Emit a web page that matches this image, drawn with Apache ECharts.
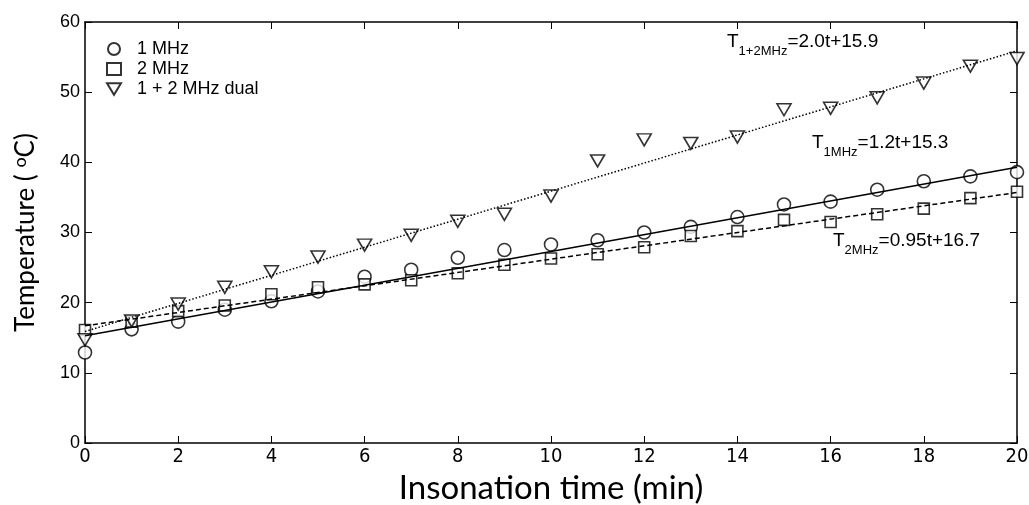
<!DOCTYPE html>
<html><head><meta charset="utf-8">
<script src="https://cdn.jsdelivr.net/npm/echarts@6/dist/echarts.min.js"></script>
<style>html,body{margin:0;padding:0;background:#fff}#c{width:1029px;height:505px}</style>
</head><body><div id="c"></div>
<script>
const times = [0,1,2,3,4,5,6,7,8,9,10,11,12,13,14,15,16,17,18,19,20];
const temp1MHz = [12.9,16.2,17.3,19.0,20.2,21.6,23.7,24.7,26.4,27.5,28.3,28.9,30.0,30.8,32.2,34.0,34.4,36.1,37.3,38.0,38.6];
const temp2MHz = [16.1,17.3,18.8,19.6,21.2,22.2,22.6,23.2,24.2,25.4,26.3,26.9,27.9,29.5,30.2,31.8,31.5,32.6,33.4,34.9,35.8];
const tempDual = [14.7,17.4,19.8,22.2,24.4,26.5,28.2,29.6,31.6,32.6,35.2,40.2,43.2,42.7,43.6,47.5,47.7,49.2,51.3,53.7,54.8];
const fit1MHz = [[0,15.3],[20,39.3]];
const fit2MHz = [[0,16.7],[20,35.7]];
const fitDual = [[0,15.9],[20,55.9]];
const seriesNames = ['1 MHz','2 MHz','1 + 2 MHz dual'];
const xTicks = {min:0,max:20,interval:2};
const yTicks = {min:0,max:60,interval:10};

const pair = arr => times.map((t,i)=>[t,arr[i]]);
const tri = 'path://M0,0 L12,0 L6,10 Z';
const mk = {color:'#fff',borderColor:'#000',borderWidth:1.6};
const chart = echarts.init(document.getElementById('c'));
const narrow = '"Liberation Sans Narrow","DejaVu Sans Condensed",Arial,sans-serif';
const tick = {show:true,inside:true,length:7,lineStyle:{color:'#000',width:1}};
const line = {onZero:false,lineStyle:{color:'#000',width:1.5}};
const rich = {m:{fontFamily:'Arial',fontSize:19,fill:'#000',verticalAlign:'top'},
              s:{fontFamily:'Arial',fontSize:13,fill:'#000',verticalAlign:'top',padding:[13,0,0,0]}};
chart.setOption({
  animation:false,
  backgroundColor:'#fff',
  grid:{left:85,right:12,top:22,bottom:62,containLabel:false,outerBoundsMode:'none'},
  legend:{
    orient:'vertical',left:101,top:34,itemGap:0,itemWidth:14,itemHeight:12,
    data:seriesNames,
    textStyle:{fontFamily:'Arial',fontSize:18,color:'#000',padding:[0,0,0,11],lineHeight:20}
  },
  xAxis:[
    {type:'value',min:xTicks.min,max:xTicks.max,interval:xTicks.interval,
     name:'Insonation time (min)',nameLocation:'middle',nameGap:26,
     nameTextStyle:{fontFamily:'Lato, "Open Sans", sans-serif',fontSize:33,color:'#000'},
     axisLine:line,axisTick:tick,
     axisLabel:{fontFamily:narrow,fontSize:20,color:'#000',margin:4},
     splitLine:{show:false}},
    {type:'value',position:'top',min:xTicks.min,max:xTicks.max,interval:xTicks.interval,
     axisLine:line,axisTick:tick,
     axisLabel:{show:false},splitLine:{show:false}}
  ],
  yAxis:[
    {type:'value',min:yTicks.min,max:yTicks.max,interval:yTicks.interval,
     name:'Temperature ( {sup|o}C)',nameLocation:'middle',nameGap:44,
     nameTextStyle:{fontFamily:'Lato, "Open Sans", sans-serif',fontSize:26,color:'#000',
       rich:{sup:{fontFamily:'Lato, "Open Sans", sans-serif',fontSize:18,color:'#000',verticalAlign:'top',padding:[0,0,12,0]}}},
     axisLine:line,axisTick:tick,
     axisLabel:{fontFamily:'Arial',fontSize:18,color:'#000',margin:5},
     splitLine:{show:false}},
    {type:'value',position:'right',min:yTicks.min,max:yTicks.max,interval:yTicks.interval,
     axisLine:line,axisTick:tick,
     axisLabel:{show:false},splitLine:{show:false}}
  ],
  series:[
    {name:seriesNames[0],type:'scatter',symbol:'circle',symbolSize:13,itemStyle:mk,data:pair(temp1MHz),z:5},
    {name:seriesNames[1],type:'scatter',symbol:'rect',symbolSize:11,itemStyle:mk,data:pair(temp2MHz),z:5},
    {name:seriesNames[2],type:'scatter',symbol:tri,symbolSize:[14,12],itemStyle:mk,data:pair(tempDual),z:5},
    {type:'line',data:fit1MHz,symbol:'none',lineStyle:{color:'#000',width:1.5,type:'solid'},z:6,silent:true},
    {type:'line',data:fit2MHz,symbol:'none',lineStyle:{color:'#000',width:1.5,type:[5,3]},z:6,silent:true},
    {type:'line',data:fitDual,symbol:'none',lineStyle:{color:'#000',width:1.5,type:[1.5,2]},z:6,silent:true}
  ],
  graphic:[
    {type:'text',left:727,top:32,style:{text:'{m|T}{s|1+2MHz}{m|=2.0t+15.9}',rich:rich}},
    {type:'text',left:812,top:133,style:{text:'{m|T}{s|1MHz}{m|=1.2t+15.3}',rich:rich}},
    {type:'text',left:833,top:231,style:{text:'{m|T}{s|2MHz}{m|=0.95t+16.7}',rich:rich}}
  ]
});
</script></body></html>
